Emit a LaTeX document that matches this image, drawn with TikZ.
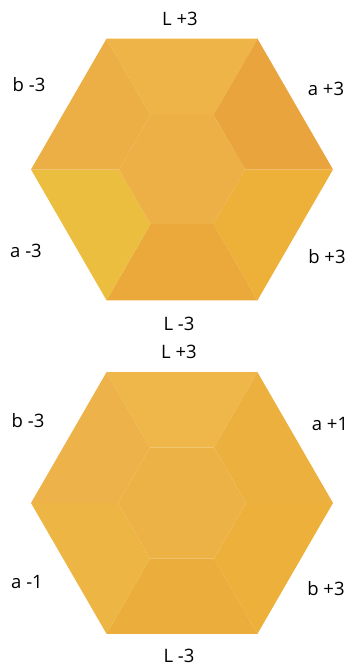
\documentclass[tikz,border=0pt]{standalone}
\usepackage{fontspec}
\setmainfont{Open Sans}
\usepackage{xcolor}
\usepackage{tikz}

% face colours, first hexagon
\definecolor{LupA}{HTML}{EFB448}
\definecolor{aupA}{HTML}{EAA43E}
\definecolor{bupA}{HTML}{EDB13A}
\definecolor{LdnA}{HTML}{EBA93B}
\definecolor{adnA}{HTML}{ECBE40}
\definecolor{bdnA}{HTML}{ECAF46}
\definecolor{midA}{HTML}{ECB046}
% face colours, second hexagon
\definecolor{LupB}{HTML}{EFB64A}
\definecolor{aupB}{HTML}{ECB03E}
\definecolor{bupB}{HTML}{EDB13B}
\definecolor{LdnB}{HTML}{EBAD3C}
\definecolor{adnB}{HTML}{EDB543}
\definecolor{bdnB}{HTML}{EDB249}
\definecolor{midB}{HTML}{EDB246}

\begin{document}
\begin{tikzpicture}[x=1pt,y=-1pt,
  lbl/.style={anchor=base,font=\fontsize{18.5}{20}\selectfont}]
\useasboundingbox (0,0) rectangle (351,665);

% First Hexagon: L +3, a +3, b +3
\begin{scope}[shift={(182,169.5)}]
\fill[LupA] (240:151) -- (300:151) -- (300:63) -- (240:63) -- cycle;  % L +3 face
\fill[aupA] (300:151) -- (360:151) -- (360:63) -- (300:63) -- cycle;  % a +3 face
\fill[bupA] (0:151) -- (60:151) -- (60:63) -- (0:63) -- cycle;        % b +3 face
\fill[LdnA] (60:151) -- (120:151) -- (120:63) -- (60:63) -- cycle;    % L -3 face
\fill[adnA] (120:151) -- (180:151) -- (180:63) -- (120:63) -- cycle;  % a -3 face
\fill[bdnA] (180:151) -- (240:151) -- (240:63) -- (180:63) -- cycle;  % b -3 face
\fill[midA] (0:63) -- (60:63) -- (120:63) -- (180:63) -- (240:63) -- (300:63) -- cycle;
\end{scope}

% Second Hexagon: L +3, a +1, b +3
\begin{scope}[shift={(182,503)}]
\fill[LupB] (240:151) -- (300:151) -- (300:64) -- (240:64) -- cycle;  % L +3 face
\fill[aupB] (300:151) -- (360:151) -- (360:64) -- (300:64) -- cycle;  % a +1 face
\fill[bupB] (0:151) -- (60:151) -- (60:64) -- (0:64) -- cycle;        % b +3 face
\fill[LdnB] (60:151) -- (120:151) -- (120:64) -- (60:64) -- cycle;    % L -3 face
\fill[adnB] (120:151) -- (180:151) -- (180:64) -- (120:64) -- cycle;  % a -1 face
\fill[bdnB] (180:151) -- (240:151) -- (240:64) -- (180:64) -- cycle;  % b -3 face
\fill[midB] (0:64) -- (60:64) -- (120:64) -- (180:64) -- (240:64) -- (300:64) -- cycle;
\end{scope}

% Labels for the first hexagon
\node[lbl] (Lup1) at (180,25) {L +3};
\node[lbl] (bdn1) at (29,91) {b -3};
\node[lbl] (aup1) at (326,95) {a +3};
\node[lbl] (adn1) at (26,257) {a -3};
\node[lbl] (bup1) at (327,263) {b +3};
\node[lbl] (Ldn1) at (179,330) {L -3};

% Labels for the second hexagon
\node[lbl] (Lup2) at (179,358) {L +3};
\node[lbl] (bdn2) at (28,427) {b -3};
\node[lbl] (aup2) at (330,430) {a +1};
\node[lbl] (adn2) at (27,588) {a -1};
\node[lbl] (bup2) at (326,595) {b +3};
\node[lbl] (Ldn2) at (179,662) {L -3};
\end{tikzpicture}
\end{document}
